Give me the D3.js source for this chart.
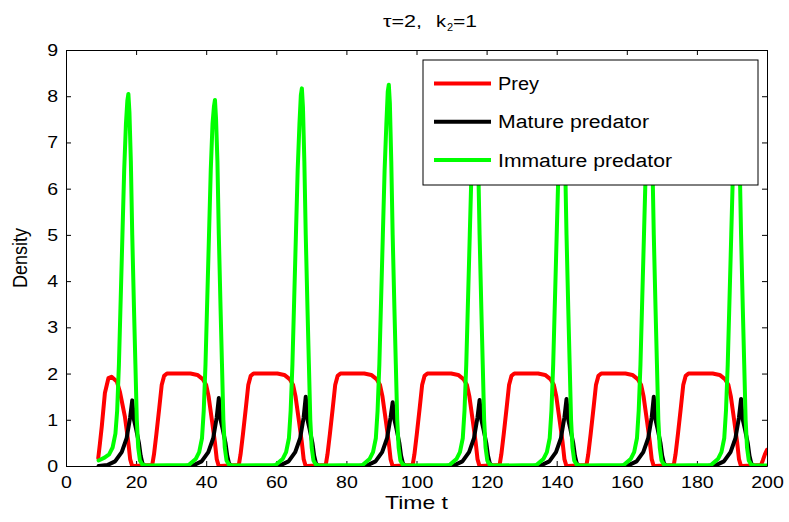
<!DOCTYPE html>
<html>
<head>
<meta charset="utf-8">
<script src="https://cdn.jsdelivr.net/npm/d3@7"></script>
<style>
  body { margin: 0; background: #fff; }
  svg { font-family: "Liberation Sans", Arial, sans-serif; }
</style>
</head>
<body>
<div id="chart"></div>
<script>
// Valores (t, densidad)
const preyData = [
  [9.2,0.17],[9.7,0.5],[10.2,0.85],[11.1,1.58],[12.1,1.9],[13.0,1.93],[14.5,1.83],[15.4,1.6],[16.8,1.07],[17.8,0.5],[18.3,0.15],[18.8,0.02],[19.3,0],
  [24.6,0.02],[25.1,0.25],[25.8,0.7],[26.6,1.25],[27.3,1.75],[28.0,1.95],[28.8,2.0],
  [35.5,2.0],[37.5,1.97],[39.0,1.88],[40.0,1.75],[40.7,1.5],[41.7,0.95],[42.5,0.5],[43.0,0.15],[43.5,0.02],[44.0,0],
  [49.3,0.02],[49.8,0.25],[50.5,0.7],[51.3,1.25],[52.0,1.75],[52.7,1.95],[53.5,2.0],
  [60.3,2.0],[62.3,1.97],[63.8,1.88],[64.8,1.75],[65.5,1.5],[66.5,0.95],[67.3,0.5],[67.8,0.15],[68.3,0.02],[68.8,0],
  [74.1,0.02],[74.6,0.25],[75.3,0.7],[76.1,1.25],[76.8,1.75],[77.5,1.95],[78.3,2.0],
  [85.1,2.0],[87.1,1.97],[88.6,1.88],[89.6,1.75],[90.3,1.5],[91.3,0.95],[92.1,0.5],[92.6,0.15],[93.1,0.02],[93.6,0],
  [98.9,0.02],[99.4,0.25],[100.1,0.7],[100.9,1.25],[101.6,1.75],[102.3,1.95],[103.1,2.0],
  [109.9,2.0],[111.9,1.97],[113.4,1.88],[114.4,1.75],[115.1,1.5],[116.1,0.95],[116.9,0.5],[117.4,0.15],[117.9,0.02],[118.4,0],
  [123.7,0.02],[124.2,0.25],[124.9,0.7],[125.7,1.25],[126.4,1.75],[127.1,1.95],[127.9,2.0],
  [134.7,2.0],[136.7,1.97],[138.2,1.88],[139.2,1.75],[139.9,1.5],[140.9,0.95],[141.7,0.5],[142.2,0.15],[142.7,0.02],[143.2,0],
  [148.5,0.02],[149.0,0.25],[149.7,0.7],[150.5,1.25],[151.2,1.75],[151.9,1.95],[152.7,2.0],
  [159.6,2.0],[161.6,1.97],[163.1,1.88],[164.1,1.75],[164.8,1.5],[165.8,0.95],[166.6,0.5],[167.1,0.15],[167.6,0.02],[168.1,0],
  [173.4,0.02],[173.9,0.25],[174.6,0.7],[175.4,1.25],[176.1,1.75],[176.8,1.95],[177.6,2.0],
  [184.5,2.0],[186.5,1.97],[188.0,1.88],[189.0,1.75],[189.7,1.5],[190.7,0.95],[191.5,0.5],[192.0,0.15],[192.5,0.02],[193.0,0],
  [198.3,0.02],[198.8,0.12],[199.4,0.25],[200,0.35]
];

const matureData = [
  [9.3,0],[11.8,0.02],[14.0,0.1],[15.9,0.3],[17.3,0.6],[18.3,1.05],[18.9,1.42],[19.4,1.0],[20.0,0.8],[20.8,0.5],[21.3,0.22],[21.8,0.06],[22.5,0],
  [34.0,0],[36.5,0.02],[38.7,0.1],[40.6,0.3],[42.0,0.6],[43.0,1.05],[43.6,1.47],[44.1,1.0],[44.7,0.8],[45.5,0.5],[46.0,0.22],[46.5,0.06],[47.2,0],
  [58.8,0],[61.3,0.02],[63.5,0.1],[65.4,0.3],[66.8,0.6],[67.8,1.05],[68.4,1.5],[68.9,1.0],[69.5,0.8],[70.3,0.5],[70.8,0.22],[71.3,0.06],[72.0,0],
  [83.6,0],[86.1,0.02],[88.3,0.1],[90.2,0.3],[91.6,0.6],[92.6,1.05],[93.2,1.38],[93.7,1.0],[94.3,0.8],[95.1,0.5],[95.6,0.22],[96.1,0.06],[96.8,0],
  [108.4,0],[110.9,0.02],[113.1,0.1],[115.0,0.3],[116.4,0.6],[117.4,1.05],[118.0,1.43],[118.5,1.0],[119.1,0.8],[119.9,0.5],[120.4,0.22],[120.9,0.06],[121.6,0],
  [133.2,0],[135.7,0.02],[137.9,0.1],[139.8,0.3],[141.2,0.6],[142.2,1.05],[142.8,1.45],[143.3,1.0],[143.9,0.8],[144.7,0.5],[145.2,0.22],[145.7,0.06],[146.4,0],
  [158.1,0],[160.6,0.02],[162.8,0.1],[164.7,0.3],[166.1,0.6],[167.1,1.05],[167.7,1.5],[168.2,1.0],[168.8,0.8],[169.6,0.5],[170.1,0.22],[170.6,0.06],[171.3,0],
  [183.0,0],[185.5,0.02],[187.7,0.1],[189.6,0.3],[191.0,0.6],[192.0,1.05],[192.6,1.45],[193.1,1.0],[193.7,0.8],[194.5,0.5],[195.0,0.22],[195.5,0.06],[196.2,0],[200,0]
];

const immatureData = [
  [9.3,0.12],[11.0,0.18],[12.3,0.25],[13.3,0.4],[14.1,0.7],[14.6,1.2],[15.1,2.2],[15.6,3.6],[16.1,5.0],[16.6,6.4],[17.1,7.4],[17.5,7.9],[17.8,8.05],[18.1,7.65],[18.5,6.6],[18.9,5.0],[19.4,3.4],[19.8,2.2],[20.2,1.0],[20.6,0.4],[21.1,0.12],[21.8,0.03],[22.8,0.01],
  [35.0,0.02],[37.0,0.15],[38.0,0.3],[38.8,0.6],[39.3,1.2],[39.8,2.2],[40.3,3.6],[40.8,5.0],[41.3,6.4],[41.8,7.4],[42.2,7.77],[42.5,7.92],[42.8,7.52],[43.2,6.6],[43.6,5.0],[44.1,3.4],[44.5,2.2],[44.9,1.0],[45.3,0.4],[45.8,0.12],[46.5,0.03],[47.5,0.01],
  [59.8,0.02],[61.8,0.15],[62.8,0.3],[63.6,0.6],[64.1,1.2],[64.6,2.2],[65.1,3.6],[65.6,5.0],[66.1,6.4],[66.6,7.4],[67.0,8.02],[67.3,8.17],[67.6,7.77],[68.0,6.6],[68.4,5.0],[68.9,3.4],[69.3,2.2],[69.7,1.0],[70.1,0.4],[70.6,0.12],[71.3,0.03],[72.3,0.01],
  [84.6,0.02],[86.6,0.15],[87.6,0.3],[88.4,0.6],[88.9,1.2],[89.4,2.2],[89.9,3.6],[90.4,5.0],[90.9,6.4],[91.4,7.4],[91.8,8.1],[92.1,8.25],[92.4,7.85],[92.8,6.6],[93.2,5.0],[93.7,3.4],[94.1,2.2],[94.5,1.0],[94.9,0.4],[95.4,0.12],[96.1,0.03],[97.1,0.01],
  [109.4,0.02],[111.4,0.15],[112.4,0.3],[113.2,0.6],[113.7,1.2],[114.2,2.2],[114.7,3.6],[115.2,5.0],[115.7,6.4],[116.2,7.4],[116.6,7.95],[116.9,8.1],[117.2,7.7],[117.6,6.6],[118.0,5.0],[118.5,3.4],[118.9,2.2],[119.3,1.0],[119.7,0.4],[120.2,0.12],[120.9,0.03],[121.9,0.01],
  [134.2,0.02],[136.2,0.15],[137.2,0.3],[138.0,0.6],[138.5,1.2],[139.0,2.2],[139.5,3.6],[140.0,5.0],[140.5,6.4],[141.0,7.4],[141.4,8.0],[141.7,8.15],[142.0,7.75],[142.4,6.6],[142.8,5.0],[143.3,3.4],[143.7,2.2],[144.1,1.0],[144.5,0.4],[145.0,0.12],[145.7,0.03],[146.7,0.01],
  [159.1,0.02],[161.1,0.15],[162.1,0.3],[162.9,0.6],[163.4,1.2],[163.9,2.2],[164.4,3.6],[164.9,5.0],[165.4,6.4],[165.9,7.4],[166.3,7.95],[166.6,8.1],[166.9,7.7],[167.3,6.6],[167.7,5.0],[168.2,3.4],[168.6,2.2],[169.0,1.0],[169.4,0.4],[169.9,0.12],[170.6,0.03],[171.6,0.01],
  [184.0,0.02],[186.0,0.15],[187.0,0.3],[187.8,0.6],[188.3,1.2],[188.8,2.2],[189.3,3.6],[189.8,5.0],[190.3,6.4],[190.8,7.4],[191.2,8.0],[191.5,8.15],[191.8,7.75],[192.2,6.6],[192.6,5.0],[193.1,3.4],[193.5,2.2],[193.9,1.0],[194.3,0.4],[194.8,0.12],[195.5,0.03],[196.5,0.01],[200,0.01]
];

const seriesNames = ["Prey", "Mature predator", "Immature predator"];
const seriesColors = ["#ff0000", "#000000", "#00ff00"];
const xTicks = [0, 20, 40, 60, 80, 100, 120, 140, 160, 180, 200];
const yTicks = [0, 1, 2, 3, 4, 5, 6, 7, 8, 9];

// Tamaños
const WIDTH = 789;
const HEIGHT = 522;
const margin = { top: 50, right: 22, bottom: 56, left: 66 };
const innerW = WIDTH - margin.left - margin.right;
const innerH = HEIGHT - margin.top - margin.bottom;
const STRETCH = 1.15; // el texto original sale un poco ensanchado
const DIGIT_W = 17 * 0.556 * STRETCH;

const svg = d3.select("#chart").append("svg")
    .attr("width", WIDTH)
    .attr("height", HEIGHT);

const g = svg.append("g")
    .attr("transform", `translate(${margin.left}, ${margin.top})`);

const x = d3.scaleLinear().domain([0, 200]).range([0, innerW]);
const y = d3.scaleLinear().domain([0, 9]).range([innerH, 0]);

// Clip para las curvas
g.append("clipPath").attr("id", "clip")
  .append("rect").attr("width", innerW).attr("height", innerH);

// Ejes (ticks hacia adentro, estilo MATLAB)
g.append("g")
    .attr("class", "x-axis")
    .attr("transform", `translate(0, ${innerH})`)
    .call(d3.axisBottom(x).tickValues(xTicks).tickSizeInner(-5).tickSizeOuter(0).tickPadding(10));

g.append("g")
    .attr("class", "y-axis")
    .call(d3.axisLeft(y).tickValues(yTicks).tickSizeInner(-5).tickSizeOuter(0).tickPadding(8));

g.append("g")
    .attr("class", "top-axis")
    .call(d3.axisTop(x).tickValues(xTicks).tickSizeInner(-5).tickSizeOuter(0).tickFormat(""));

g.append("g")
    .attr("class", "right-axis")
    .attr("transform", `translate(${innerW}, 0)`)
    .call(d3.axisRight(y).tickValues(yTicks).tickSizeInner(-5).tickSizeOuter(0).tickFormat(""));

g.selectAll(".domain").attr("stroke", "#000").attr("stroke-width", 1);
g.selectAll(".tick line").attr("stroke", "#000");
g.selectAll(".x-axis text, .y-axis text")
    .style("font-size", "17px")
    .style("font-family", "'Liberation Sans', Arial, sans-serif")
    .attr("fill", "#000")
    .attr("textLength", d => String(d).length * DIGIT_W)
    .attr("lengthAdjust", "spacingAndGlyphs");

// Curvas
const line = d3.line()
    .x(d => x(d[0]))
    .y(d => y(d[1]));

const allSeries = [preyData, matureData, immatureData];
g.append("g").attr("clip-path", "url(#clip)")
  .selectAll("path")
  .data(allSeries)
  .enter().append("path")
    .attr("d", line)
    .attr("fill", "none")
    .attr("stroke", (d, i) => seriesColors[i])
    .attr("stroke-width", 4)
    .attr("stroke-linejoin", "round")
    .attr("stroke-linecap", "round");

// Leyenda
const legendWidths = [41, 151, 174];
const legend = svg.append("g").attr("transform", "translate(423, 60)");
legend.append("rect")
    .attr("width", 335)
    .attr("height", 125)
    .attr("fill", "#fff")
    .attr("stroke", "#000")
    .attr("stroke-width", 1);

const legendItems = legend.selectAll(".item")
    .data(seriesNames)
    .enter().append("g")
    .attr("class", "item")
    .attr("transform", (d, i) => `translate(0, ${23.5 + i * 38.3})`);

legendItems.append("line")
    .attr("x1", 11).attr("x2", 68)
    .attr("stroke", (d, i) => seriesColors[i])
    .attr("stroke-width", 4);

legendItems.append("text")
    .attr("x", 75)
    .attr("y", 6.5)
    .style("font-size", "18px")
    .attr("fill", "#000")
    .attr("textLength", (d, i) => legendWidths[i])
    .attr("lengthAdjust", "spacingAndGlyphs")
    .text(d => d);

// Titulo (tau=2, k_2=1)
const titleY = 27;
svg.append("text")
    .attr("x", 383).attr("y", titleY)
    .style("font-size", "16px")
    .attr("textLength", 39).attr("lengthAdjust", "spacingAndGlyphs")
    .text("\u03c4=2,");
svg.append("text")
    .attr("x", 436).attr("y", titleY)
    .style("font-size", "16px")
    .attr("textLength", 10).attr("lengthAdjust", "spacingAndGlyphs")
    .text("k");
svg.append("text")
    .attr("x", 447).attr("y", titleY + 4)
    .style("font-size", "11px")
    .text("2");
svg.append("text")
    .attr("x", 453).attr("y", titleY)
    .style("font-size", "16px")
    .attr("textLength", 24).attr("lengthAdjust", "spacingAndGlyphs")
    .text("=1");

// Etiquetas de ejes
svg.append("text")
    .attr("x", margin.left + innerW / 2)
    .attr("y", 509)
    .attr("text-anchor", "middle")
    .style("font-size", "18px")
    .attr("textLength", 63).attr("lengthAdjust", "spacingAndGlyphs")
    .text("Time t");

svg.append("text")
    .attr("transform", `translate(27, ${margin.top + innerH / 2}) scale(${STRETCH}, 1) rotate(-90)`)
    .attr("text-anchor", "middle")
    .style("font-size", "18px")
    .text("Density");
</script>
</body>
</html>
